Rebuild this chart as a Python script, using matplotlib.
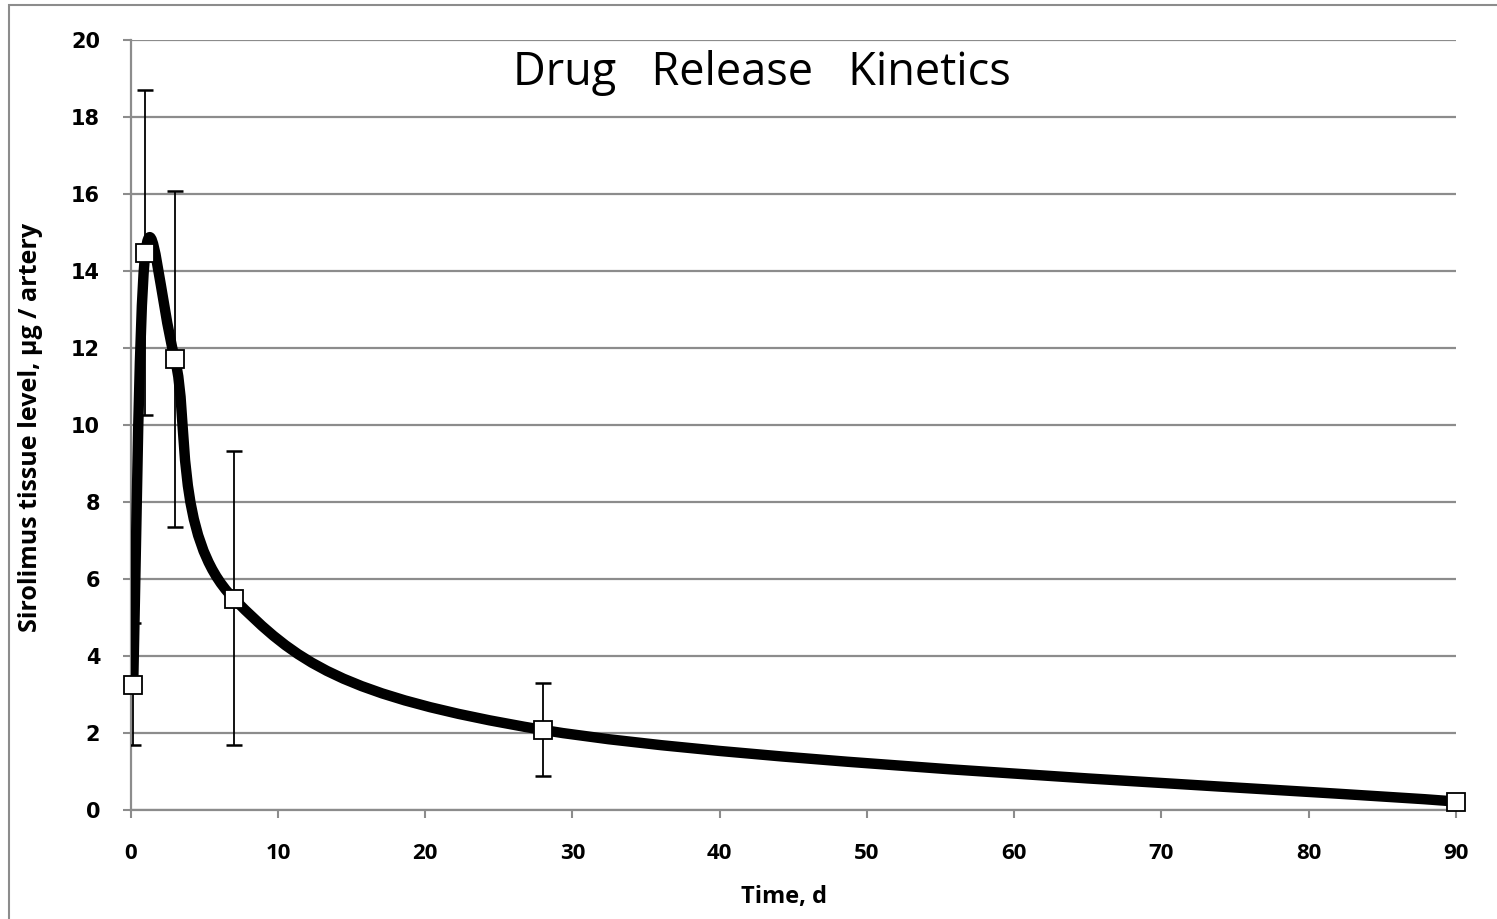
import numpy as np
from matplotlib import pyplot as plt
from matplotlib.path import Path
from matplotlib.patches import PathPatch, Rectangle

# Data
days = [0.17, 1, 3, 7, 28, 90]
level = [3.25, 14.48, 11.72, 5.49, 2.08, 0.22]
err_low = [1.70, 10.27, 7.35, 1.69, 0.89, 0.22]
err_high = [4.87, 18.70, 16.09, 9.32, 3.31, 0.22]

x_ticks = [0, 10, 20, 30, 40, 50, 60, 70, 80, 90]
y_ticks = [0, 2, 4, 6, 8, 10, 12, 14, 16, 18, 20]

grey = '#8c8c8c'

fig = plt.figure(figsize=(14.97, 9.19), dpi=100)
ax = fig.add_axes([0.0873, 0.1186, 0.9726 - 0.0873, 0.9565 - 0.1186])

# Smoothed line (cardinal spline as bezier segments, like a spreadsheet "smoothed line")
pts = np.column_stack([days, level])
verts = [pts[0]]
codes = [Path.MOVETO]
n = len(pts)
for i in range(n - 1):
    p0 = pts[i - 1] if i > 0 else pts[i]
    p1 = pts[i]
    p2 = pts[i + 1]
    p3 = pts[i + 2] if i + 2 < n else pts[i + 1]
    c1 = p1 + (p2 - p0) / 6.0
    c2 = p2 - (p3 - p1) / 6.0
    verts += [c1, c2, p2]
    codes += [Path.CURVE4] * 3
curve = PathPatch(Path(verts, codes), facecolor='none', edgecolor='black',
                  lw=7.5, zorder=3, capstyle='round', joinstyle='round')
ax.add_patch(curve)

# Error bars
lvl = np.array(level)
yerr = [lvl - np.array(err_low), np.array(err_high) - lvl]
ax.errorbar(days, level, yerr=yerr, fmt='none', ecolor='black',
            elinewidth=1.3, capsize=6, capthick=1.8, zorder=4)

# Markers
ax.plot(days, level, linestyle='none', marker='s', markersize=13,
        markerfacecolor='white', markeredgecolor='black',
        markeredgewidth=1.3, zorder=5, clip_on=False)

ax.set_xlim(0, 90)
ax.set_ylim(0, 20)
ax.set_xticks(x_ticks)
ax.set_yticks(y_ticks)
ax.grid(axis='y', color=grey, lw=1.6, zorder=1)
ax.set_axisbelow(True)

for s in ['top', 'right']:
    ax.spines[s].set_visible(False)
for s in ['left', 'bottom']:
    ax.spines[s].set_color(grey)
    ax.spines[s].set_linewidth(1.6)
ax.tick_params(axis='both', direction='out', length=6, width=1.5, color=grey)
ax.tick_params(axis='x', pad=18, labelsize=16)
ax.tick_params(axis='y', pad=16, labelsize=15)
for lab in ax.get_xticklabels():
    lab.set_fontfamily('Open Sans')
    lab.set_fontweight('bold')
for lab in ax.get_yticklabels():
    lab.set_fontfamily('DejaVu Sans')
    lab.set_fontweight('bold')

ax.set_xlabel('Time, d', fontfamily='Open Sans', fontweight='bold',
              fontsize=17)
ax.xaxis.set_label_coords(0.493, -0.097)
ax.set_ylabel('Sirolimus tissue level, µg / artery', fontfamily='Open Sans',
              fontweight='bold', fontsize=18)
ax.yaxis.set_label_coords(-0.066, 0.497)

fig.text(0.509, 0.921, 'Drug   Release   Kinetics', ha='center', va='center',
         fontfamily='Open Sans', fontsize=32.5)

# outer chart border
fig.patches.append(Rectangle((0.006, -0.1), 1.2, 0.9946 + 0.1, fill=False,
                             edgecolor=grey, lw=1.5, transform=fig.transFigure))

fig.savefig('out.png', dpi=100)
